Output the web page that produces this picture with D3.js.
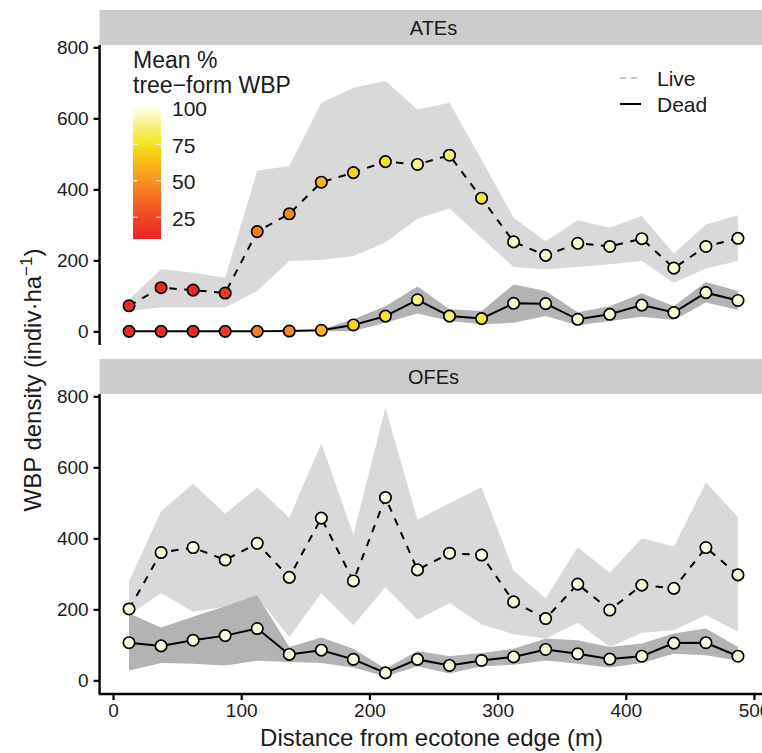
<!DOCTYPE html>
<html>
<head>
<meta charset="utf-8">
<script src="https://cdn.jsdelivr.net/npm/d3@7"></script>
<style>
  html, body { margin: 0; padding: 0; background: #fff; }
  svg { display: block; font-family: "Liberation Sans", Arial, Helvetica, sans-serif; }
</style>
</head>
<body>
<svg id="chart" width="762" height="753"></svg>
<script>
// ---------------- DATA ----------------
const distance = [12.5, 37.5, 62.5, 87.5, 112.5, 137.5, 162.5, 187.5, 212.5, 237.5,
                  262.5, 287.5, 312.5, 337.5, 362.5, 387.5, 412.5, 437.5, 462.5, 487.5];

// ATEs panel
const ateLive   = [72, 123, 116, 108, 281, 331, 420, 447, 478, 470, 496, 375, 252, 214, 248, 239, 261, 178, 239, 262];
const ateLiveLo = [57, 67, 67, 67, 114, 198, 201, 212, 250, 317, 346, 263, 181, 175, 181, 189, 198, 137, 177, 198];
const ateLiveHi = [90, 175, 165, 151, 452, 466, 644, 686, 705, 625, 644, 483, 320, 254, 313, 292, 325, 219, 301, 327];
const ateDead   = [0, 0, 0, 0, 0, 1, 3, 18, 43, 89, 43, 36, 79, 78, 34, 48, 74, 53, 109, 87];
const ateDeadLo = [0, 0, 0, 0, 0, 0, 0, 1, 24, 50, 29, 20, 24, 43, 17, 29, 41, 32, 81, 60];
const ateDeadHi = [0, 0, 0, 0, 0, 2, 5, 34, 71, 126, 62, 57, 132, 114, 54, 71, 107, 71, 139, 114];
const atePctTree = [14, 13, 14, 20, 44, 47, 60, 70, 76, 88, 86, 80, 97, 98, 98, 98, 99, 98, 97, 98];

// OFEs panel
const ofeLive   = [201, 360, 374, 339, 386, 290, 457, 280, 515, 311, 358, 353, 221, 174, 271, 198, 268, 259, 374, 297];
const ofeLiveLo = [185, 245, 193, 207, 235, 122, 245, 155, 262, 171, 218, 157, 130, 118, 162, 94, 134, 141, 184, 137];
const ofeLiveHi = [280, 476, 554, 469, 543, 458, 668, 410, 767, 452, 499, 544, 309, 231, 375, 303, 400, 377, 558, 460];
const ofeDead   = [106, 97, 113, 126, 146, 73, 85, 59, 21, 59, 42, 56, 66, 87, 75, 60, 68, 105, 106, 68];
const ofeDeadLo = [28, 49, 47, 42, 55, 52, 49, 36, 11, 40, 19, 40, 44, 56, 47, 36, 49, 75, 71, 56];
const ofeDeadHi = [188, 149, 179, 209, 240, 94, 121, 89, 33, 83, 68, 77, 89, 118, 113, 94, 104, 132, 146, 94];
const ofePctTree = [99, 99, 100, 99, 99, 99, 100, 99, 99, 99, 99, 100, 99, 99, 100, 99, 99, 99, 100, 99];

const panelNames = ["ATEs", "OFEs"];
const xTicks = [0, 100, 200, 300, 400, 500];
const yTicks = [0, 200, 400, 600, 800];
const legendTicks = [25, 50, 75, 100];
const legendTitle = ["Mean %", "tree\u2212form WBP"];
const lineLegend = ["Live", "Dead"];
const xTitle = "Distance from ecotone edge (m)";

// ---------------- LAYOUT ----------------
const svg = d3.select("#chart");
const W = 762;
const xLeft = 98.6, xRight = 768.4;
const panels = [
  {name: panelNames[0], stripTop: 10, top: 45, bottom: 345,
   live: ateLive, liveLo: ateLiveLo, liveHi: ateLiveHi,
   dead: ateDead, deadLo: ateDeadLo, deadHi: ateDeadHi, pct: atePctTree},
  {name: panelNames[1], stripTop: 359, top: 394, bottom: 694,
   live: ofeLive, liveLo: ofeLiveLo, liveHi: ofeLiveHi,
   dead: ofeDead, deadLo: ofeDeadLo, deadHi: ofeDeadHi, pct: ofePctTree}
];

const x = d3.scaleLinear().domain([-11.25, 511.25]).range([xLeft, xRight]);

const color = d3.scaleLinear()
  .domain([10, 25, 50, 62.5, 75, 100])
  .range(["#EC2227", "#EF4524", "#F6921F", "#FABA17", "#F2E41B", "#FFFFE4"])
  .interpolate(d3.interpolateRgb)
  .clamp(true);

const textCol = "#1a1a1a";

svg.append("clipPath").attr("id", "clipAll")
  .append("rect").attr("x", 0).attr("y", 0).attr("width", W).attr("height", 753);

panels.forEach((p, pi) => {
  const y = d3.scaleLinear().domain([-38.4, 806.4]).range([p.bottom, p.top]);
  const g = svg.append("g").attr("clip-path", "url(#clipAll)");

  // strip
  g.append("rect").attr("x", xLeft + 1).attr("y", p.stripTop)
    .attr("width", xRight - xLeft).attr("height", p.top - p.stripTop)
    .attr("fill", "#CCCCCC");
  g.append("text").attr("x", (xLeft + xRight) / 2).attr("y", (p.stripTop + p.top) / 2)
    .attr("dy", "0.36em").attr("text-anchor", "middle")
    .attr("font-size", 20).attr("fill", textCol).text(p.name);

  const idx = d3.range(distance.length);

  // ribbons
  const liveArea = d3.area().x(i => x(distance[i])).y0(i => y(p.liveLo[i])).y1(i => y(p.liveHi[i]));
  const deadArea = d3.area().x(i => x(distance[i])).y0(i => y(p.deadLo[i])).y1(i => y(p.deadHi[i]));
  g.append("path").datum(idx).attr("d", liveArea).attr("fill", "#D9D9D9");
  g.append("path").datum(idx).attr("d", deadArea).attr("fill", "#B3B3B3");

  // lines
  const deadLine = d3.line().x(i => x(distance[i])).y(i => y(p.dead[i]));
  g.append("path").datum(idx).attr("d", deadLine)
    .attr("fill", "none").attr("stroke", "#000").attr("stroke-width", 2);
  const liveLine = d3.line().x(i => x(distance[i])).y(i => y(p.live[i]));
  g.append("path").datum(idx).attr("d", liveLine)
    .attr("fill", "none").attr("stroke", "#000").attr("stroke-width", 2)
    .attr("stroke-dasharray", "7.5,7.5");

  // points
  [p.dead, p.live].forEach(vals => {
    g.selectAll(null).data(idx).enter().append("circle")
      .attr("cx", i => x(distance[i])).attr("cy", i => y(vals[i]))
      .attr("r", 5.7)
      .attr("fill", i => color(p.pct[i]))
      .attr("stroke", "#000").attr("stroke-width", 1.7);
  });

  // y axis
  const yAxis = d3.axisLeft(y).tickValues(yTicks).tickSize(6).tickPadding(5);
  const ya = svg.append("g").attr("transform", `translate(${xLeft + 1},0)`).call(yAxis);
  ya.select(".domain").attr("d", `M0,${p.top}V${p.bottom}`).attr("stroke-width", 2.4).attr("stroke", "#000");
  ya.selectAll(".tick line").attr("stroke-width", 2.2).attr("stroke", "#000");
  ya.selectAll(".tick text").attr("font-size", 19).attr("fill", textCol)
    .attr("font-family", "Liberation Sans, Arial, sans-serif");

  if (pi === 1) {
    const xAxis = d3.axisBottom(x).tickValues(xTicks).tickSize(6).tickPadding(4);
    const xa = svg.append("g").attr("transform", `translate(0,${p.bottom})`).call(xAxis);
    xa.select(".domain").attr("d", `M${xLeft},0H${W}`).attr("stroke-width", 2.4).attr("stroke", "#000");
    xa.selectAll(".tick line").attr("stroke-width", 2.2).attr("stroke", "#000");
    xa.selectAll(".tick text").attr("font-size", 19).attr("fill", textCol)
      .attr("font-family", "Liberation Sans, Arial, sans-serif");
  }
});

// axis titles
svg.append("text").attr("x", (xLeft + xRight) / 2 - 2).attr("y", 746)
  .attr("text-anchor", "middle").attr("font-size", 24).attr("fill", textCol).text(xTitle);

const yt = svg.append("text")
  .attr("transform", `translate(41,380) rotate(-90)`)
  .attr("text-anchor", "middle").attr("font-size", 24).attr("fill", textCol);
yt.append("tspan").text("WBP density (indiv\u00B7ha");
yt.append("tspan").attr("dy", -9).attr("font-size", 17).text("\u22121");
yt.append("tspan").attr("dy", 9).text(")");

// colour legend
const lg = svg.append("g");
lg.selectAll(null).data(legendTitle).enter().append("text")
  .attr("x", 133).attr("y", (d, i) => 68 + i * 25)
  .attr("font-size", 23).attr("fill", textCol).text(d => d);

const barTop = 108, barBot = 239, barX = 133, barW = 28;
const ly = d3.scaleLinear().domain([10, 100]).range([barBot, barTop]);
const defs = svg.append("defs");
const grad = defs.append("linearGradient").attr("id", "cgrad")
  .attr("x1", 0).attr("y1", 1).attr("x2", 0).attr("y2", 0);
d3.range(0, 1.0001, 0.05).forEach(t => {
  const v = 10 + t * 90;
  grad.append("stop").attr("offset", t).attr("stop-color", color(v));
});
lg.append("rect").attr("x", barX).attr("y", barTop).attr("width", barW)
  .attr("height", barBot - barTop).attr("fill", "url(#cgrad)");
legendTicks.forEach(v => {
  if (v < 100) {
    lg.append("line").attr("x1", barX).attr("x2", barX + 5).attr("y1", ly(v)).attr("y2", ly(v))
      .attr("stroke", "#fff").attr("stroke-width", 1);
    lg.append("line").attr("x1", barX + barW - 5).attr("x2", barX + barW).attr("y1", ly(v)).attr("y2", ly(v))
      .attr("stroke", "#fff").attr("stroke-width", 1);
  }
  lg.append("text").attr("x", 172).attr("y", ly(v)).attr("dy", "0.4em")
    .attr("font-size", 21).attr("fill", textCol).text(v);
});

// line-type legend
const ll = svg.append("g");
lineLegend.forEach((name, i) => {
  const yy = 78 + i * 26;
  ll.append("line").attr("x1", 620).attr("x2", 641).attr("y1", yy).attr("y2", yy)
    .attr("stroke", i === 0 ? "#C8C8C8" : "#000").attr("stroke-width", 2)
    .attr("stroke-dasharray", i === 0 ? "6,5" : null);
  ll.append("text").attr("x", 657).attr("y", yy).attr("dy", "0.36em")
    .attr("font-size", 21).attr("fill", textCol).text(name);
});
</script>
</body>
</html>
